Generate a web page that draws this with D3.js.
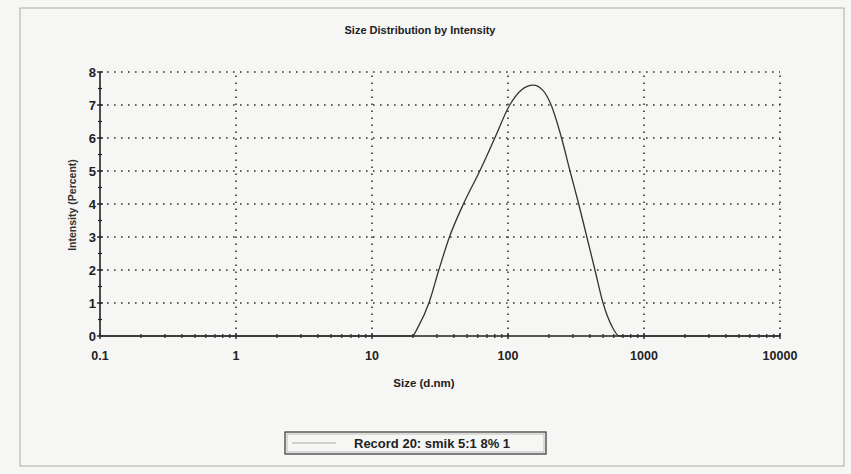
<!DOCTYPE html>
<html>
<head>
<meta charset="utf-8">
<script src="https://cdn.jsdelivr.net/npm/d3@7"></script>
<style>
  body { margin: 0; background: #f6f6f4; }
  svg { display: block; font-family: "Liberation Sans", Arial, sans-serif; }
</style>
</head>
<body>
<div id="chart"></div>
<script>
// size (d.nm) vs intensity (%)
var sizes = [0.1, 1, 10, 19.7, 22, 26.2, 31.0, 37.1, 47, 62, 80, 103, 125, 153.5, 180, 207.6, 247.6, 285.7, 331, 380, 436, 500, 580, 659, 1000, 10000];
var intensity = [0, 0, 0, 0, 0.3, 1, 2, 3, 4, 5, 6, 7, 7.45, 7.6, 7.45, 7, 6, 5, 4, 3, 2, 1, 0.3, 0, 0, 0];
var xTicks = [0.1, 1, 10, 100, 1000, 10000];
var yTicks = [0, 1, 2, 3, 4, 5, 6, 7, 8];
var legendLabel = "Record 20: smik 5:1 8% 1";

var width = 851, height = 474;
var svg = d3.select("#chart").append("svg")
    .attr("width", width)
    .attr("height", height);

// page frame
svg.append("rect")
    .attr("x", 20).attr("y", 8)
    .attr("width", 824).attr("height", 458)
    .attr("fill", "none")
    .attr("stroke", "#aaa")
    .attr("stroke-width", 1);

var x = d3.scaleLog().domain([0.1, 10000]).range([100, 780]);
var y = d3.scaleLinear().domain([0, 8]).range([336, 72]);

// dotted grid
var grid = svg.append("g")
    .attr("stroke", "#333")
    .attr("stroke-width", 1.6)
    .attr("stroke-dasharray", "1.6,5.4");
grid.selectAll(".hg").data(yTicks.slice(1)).join("line")
    .attr("x1", x(0.1)).attr("x2", x(10000))
    .attr("y1", d => y(d)).attr("y2", d => y(d));
grid.selectAll(".vg").data(xTicks.slice(1)).join("line")
    .attr("x1", d => x(d)).attr("x2", d => x(d))
    .attr("y1", y(0)).attr("y2", y(8));

// x axis with log minor ticks
var minor = [];
for (var e = -1; e < 4; e++) for (var k = 2; k < 10; k++) minor.push(k * Math.pow(10, e));
var xa = svg.append("g").attr("stroke", "#222");
xa.append("line").attr("x1", x(0.1)).attr("x2", x(10000))
    .attr("y1", y(0)).attr("y2", y(0)).attr("stroke-width", 1.6);
xa.selectAll(".mt").data(minor).join("line")
    .attr("x1", d => x(d)).attr("x2", d => x(d))
    .attr("y1", y(0) - 2).attr("y2", y(0) + 2).attr("stroke-width", 1.2);
xa.selectAll(".Mt").data(xTicks).join("line")
    .attr("x1", d => x(d)).attr("x2", d => x(d))
    .attr("y1", y(0) - 3).attr("y2", y(0) + 3).attr("stroke-width", 1.4);
svg.selectAll(".xl").data(xTicks).join("text")
    .attr("x", d => x(d)).attr("y", 360)
    .attr("text-anchor", "middle")
    .attr("font-size", 12.5).attr("font-weight", "bold").attr("fill", "#222")
    .text(d => d);

// y axis
var ya = svg.append("g").attr("stroke", "#222");
ya.append("line").attr("x1", x(0.1)).attr("x2", x(0.1))
    .attr("y1", y(0)).attr("y2", y(8)).attr("stroke-width", 1.6);
ya.selectAll(".ym").data(d3.range(0.5, 8, 1)).join("line")
    .attr("x1", x(0.1) - 2).attr("x2", x(0.1) + 2)
    .attr("y1", d => y(d)).attr("y2", d => y(d)).attr("stroke-width", 1.2);
ya.selectAll(".yM").data(yTicks).join("line")
    .attr("x1", x(0.1) - 3).attr("x2", x(0.1) + 3)
    .attr("y1", d => y(d)).attr("y2", d => y(d)).attr("stroke-width", 1.4);
svg.selectAll(".yl").data(yTicks).join("text")
    .attr("x", x(0.1) - 4).attr("y", d => y(d) + 4.5)
    .attr("text-anchor", "end")
    .attr("font-size", 13).attr("font-weight", "bold").attr("fill", "#222")
    .text(d => d);

// curve
var pts = sizes.map((s, i) => [s, intensity[i]]);
svg.append("path")
    .datum(pts)
    .attr("fill", "none")
    .attr("stroke", "#333")
    .attr("stroke-width", 1.3)
    .attr("d", d3.line().x(d => x(d[0])).y(d => y(d[1])).curve(d3.curveMonotoneX));

// titles
svg.append("text").attr("x", 420).attr("y", 34)
    .attr("text-anchor", "middle").attr("font-size", 11).attr("font-weight", "bold")
    .attr("fill", "#222").text("Size Distribution by Intensity");
svg.append("text").attr("x", 424).attr("y", 387)
    .attr("text-anchor", "middle").attr("font-size", 11.5).attr("font-weight", "bold")
    .attr("fill", "#222").text("Size (d.nm)");
svg.append("text")
    .attr("transform", "translate(76,205) rotate(-90)")
    .attr("text-anchor", "middle").attr("font-size", 10.5).attr("font-weight", "bold")
    .attr("fill", "#333").text("Intensity (Percent)");

// legend
var lg = svg.append("g");
lg.append("rect").attr("x", 285).attr("y", 432).attr("width", 261).attr("height", 22)
    .attr("fill", "none").attr("stroke", "#333").attr("stroke-width", 1.2);
lg.append("rect").attr("x", 287).attr("y", 434).attr("width", 257).attr("height", 18)
    .attr("fill", "none").attr("stroke", "#999").attr("stroke-width", 0.6);
lg.append("line").attr("x1", 292).attr("x2", 336).attr("y1", 443).attr("y2", 443)
    .attr("stroke", "#aaa").attr("stroke-width", 1);
lg.append("text").attr("x", 354).attr("y", 448)
    .attr("font-size", 13).attr("font-weight", "bold").attr("fill", "#222")
    .text(legendLabel);
</script>
</body>
</html>
